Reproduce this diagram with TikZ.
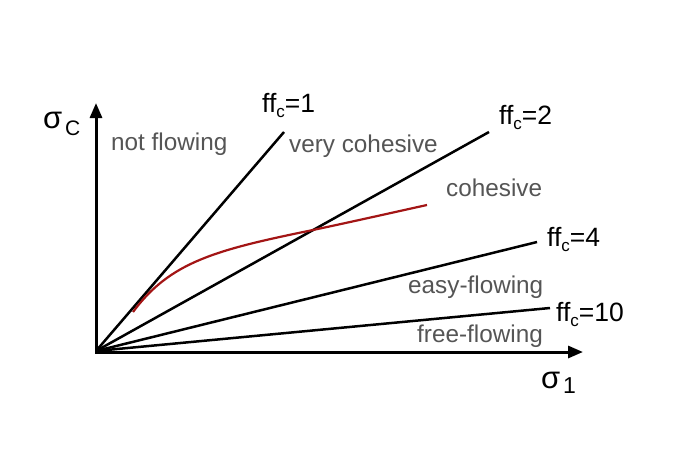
\documentclass[tikz,border=0pt]{standalone}
\usepackage{fontspec}
\setmainfont{Liberation Sans}
\usetikzlibrary{arrows.meta}
\definecolor{curvered}{HTML}{A31515}
\definecolor{labgray}{HTML}{555555}
\newcommand{\ffc}[1]{ff\raisebox{-5pt}{\fontsize{17}{17}\selectfont c}=#1}
\begin{document}
\begin{tikzpicture}[x=1pt,y=-1pt,
  axis/.style={line width=3pt,-{Triangle[length=15pt,width=12pt]}},
  ffline/.style={line width=2.5pt},
  region/.style={text=labgray,font=\fontsize{24.3}{28}\selectfont,anchor=base west,inner sep=0pt},
  fflab/.style={text=black,font=\fontsize{26.5}{30}\selectfont,anchor=base west,inner sep=0pt},
  siglab/.style={text=black,anchor=base west,inner sep=0pt}]
\useasboundingbox (0,0) rectangle (690,460);
\fill[white] (0,0) rectangle (690,460);
\coordinate (O) at (96,351);
\coordinate (ytip) at (96,103);
\coordinate (xtip) at (583,352);
\coordinate (e1) at (284,132);
\coordinate (e2) at (489,132);
\coordinate (e4) at (537,242);
\coordinate (e10) at (550,308);
\draw[ffline] (O) -- (e1);
\draw[ffline] (O) -- (e2);
\draw[ffline] (O) -- (e4);
\draw[ffline] (O) -- (e10);
\draw[axis] (O) -- (ytip);
\draw[axis] (95,352) -- (xtip);
\draw[curvered,line width=2.2pt] (133,312) .. controls (170,262) and (215,250) .. (313,230) .. controls (360,220) and (395,212) .. (427,205);
\node[fflab] (l1) at (262,112) {\ffc{1}};
\node[fflab] (l2) at (499,124) {\ffc{2}};
\node[fflab] (l4) at (547,246) {\ffc{4}};
\node[fflab] (l10) at (556,321) {\ffc{10}};
\node[region] (nf) at (111,150) {not flowing};
\node[region] (vc) at (289,152) {very cohesive};
\node[region] (co) at (446,196) {cohesive};
\node[region] (ef) at (408,293) {easy-flowing};
\node[region] (ff) at (417,342) {free-flowing};
\node[siglab,font=\fontsize{31}{36}\selectfont] (sc) at (43,128) {σ};
\node[siglab,font=\fontsize{21}{24}\selectfont] (scs) at (65,135) {C};
\node[siglab,font=\fontsize{31}{36}\selectfont] (s1) at (541,388) {σ};
\node[siglab,font=\fontsize{23}{24}\selectfont] (s1s) at (563,393) {1};
\end{tikzpicture}
\end{document}
